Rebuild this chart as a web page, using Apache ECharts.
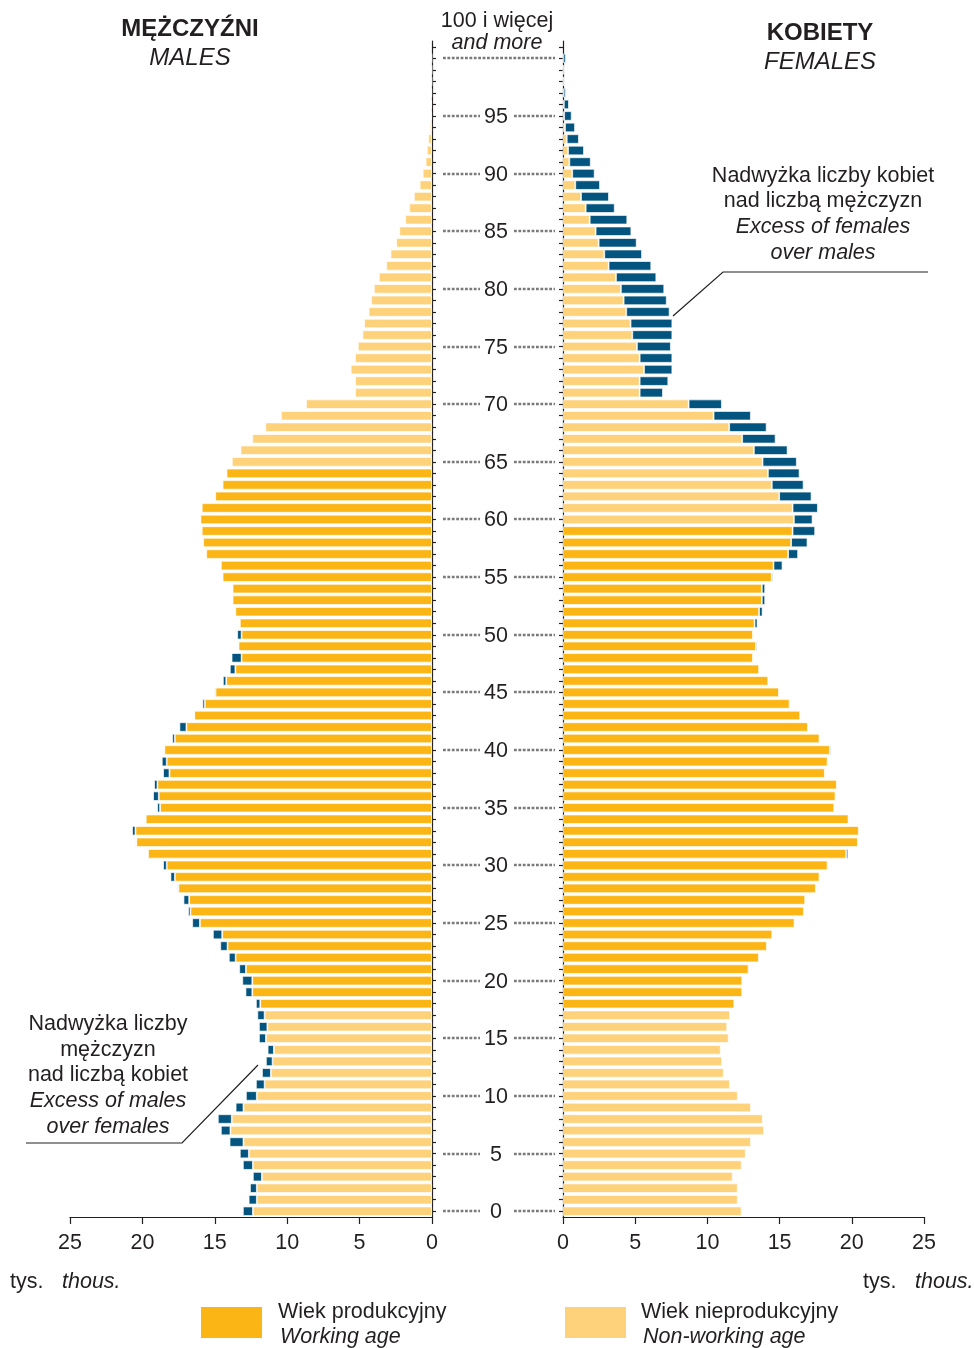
<!DOCTYPE html>
<html>
<head>
<meta charset="utf-8">
<title>Piramida wieku</title>
<script src="https://cdn.jsdelivr.net/npm/echarts@6/dist/echarts.min.js"></script>
<style>
  html, body { margin: 0; padding: 0; background: #fff; }
  #main { width: 974px; height: 1348px; }
</style>
</head>
<body>
<div id="main"></div>
<script type="text/javascript">
// wiek 0..100 (100 = 100 i więcej), tys. osób
var ages = [];
for (var i = 0; i <= 100; i++) ages.push(String(i));

var males = [
  13.06, 12.66, 12.57, 12.37, 13.06, 13.27, 13.98, 14.58, 14.79, 13.56,
  12.85, 12.16, 11.74, 11.47, 11.35, 11.95, 11.95, 12.06, 12.16, 12.88,
  13.10, 13.31, 14.03, 14.62, 15.13, 16.56, 16.84, 17.16, 17.58, 18.06,
  18.57, 19.61, 20.48, 20.71, 19.79, 18.98, 19.26, 19.19, 18.57, 18.66,
  18.48, 17.94, 17.44, 16.45, 15.85, 15.02, 14.44, 13.96, 13.84, 13.36,
  13.45, 13.27, 13.58, 13.77, 13.77, 14.46, 14.58, 15.59, 15.80, 15.90,
  15.99, 15.90, 14.97, 14.46, 14.19, 13.82, 13.22, 12.41, 11.51, 10.43,
  8.70, 5.31, 5.31, 5.61, 5.31, 5.12, 4.80, 4.68, 4.38, 4.20,
  4.01, 3.67, 3.16, 2.86, 2.47, 2.26, 1.85, 1.57, 1.25, 0.85,
  0.64, 0.44, 0.35, 0.26, 0.14, 0.08, 0.06, 0.05, 0.03, 0.02,
  0.03
];

var females = [
  12.37, 12.10, 12.10, 11.75, 12.37, 12.65, 13.02, 13.92, 13.83, 13.02,
  12.10, 11.56, 11.13, 11.01, 10.92, 11.47, 11.37, 11.56, 11.86, 12.41,
  12.41, 12.85, 13.56, 14.12, 14.49, 16.03, 16.68, 16.77, 17.51, 17.76,
  18.32, 19.75, 20.42, 20.48, 19.77, 18.78, 18.87, 18.96, 18.13, 18.32,
  18.57, 17.76, 16.96, 16.42, 15.69, 14.95, 14.21, 13.58, 13.15, 13.45,
  13.15, 13.47, 13.82, 14.00, 14.00, 14.55, 15.20, 16.28, 16.93, 17.46,
  17.28, 17.65, 17.21, 16.66, 16.38, 16.19, 15.55, 14.72, 14.10, 13.01,
  11.00, 6.92, 7.29, 7.57, 7.57, 7.47, 7.57, 7.57, 7.38, 7.18,
  7.01, 6.46, 6.11, 5.47, 5.10, 4.73, 4.45, 3.58, 3.18, 2.56,
  2.19, 1.92, 1.45, 1.10, 0.83, 0.60, 0.41, 0.20, 0.10, 0.10,
  0.20
];

var ageTicks = [0, 5, 10, 15, 20, 25, 30, 35, 40, 45, 50, 55, 60, 65, 70, 75, 80, 85, 90, 95, 100];

// wiek produkcyjny: mężczyźni 18-64, kobiety 18-59
var workMale = [18, 64];
var workFemale = [18, 59];

var ink = '#231f20';
var cWork = '#fbb616';
var cNonWork = '#fdd27b';
var cExcess = '#03557f';
var font = '"Liberation Sans", Arial, sans-serif';
var fs = 21.5;

// kategorie osi: 0..100 i jeden pusty rząd nad 100
var cats = ages.concat(['']);

function buildBase(own, other, range) {
  return own.map(function (v, i) {
    var w = i >= range[0] && i <= range[1];
    return { value: Math.min(v, other[i]), itemStyle: { color: w ? cWork : cNonWork } };
  });
}
function buildExcess(own, other) {
  return own.map(function (v, i) {
    var d = v - other[i];
    return d > 0 ? +d.toFixed(2) : '-';
  });
}

var myChart = echarts.init(document.getElementById('main'));

var valueAxis = {
  type: 'value', min: 0, max: 25, interval: 5,
  axisLine: { show: true, lineStyle: { color: ink, width: 1.2 } },
  axisTick: { show: true, length: 7, lineStyle: { color: ink, width: 1.2 } },
  axisLabel: { fontSize: fs, color: ink, margin: 15, fontFamily: font },
  splitLine: { show: false }
};
var catAxis = {
  type: 'category', data: cats,
  axisLine: { show: true, onZero: false, lineStyle: { color: ink, width: 1.2 } },
  axisTick: { show: true, alignWithLabel: true, interval: 0, length: 4, lineStyle: { color: ink, width: 1.2 } },
  axisLabel: { show: false },
  splitLine: { show: false }
};

function renderAgeLabel(params, api) {
  var idx = api.value(1);
  var y = Math.round(api.coord([0, idx])[1]);
  var x0 = params.coordSys.x, w = params.coordSys.width;
  var dash = { stroke: '#7a7a7a', lineWidth: 2.6, lineDash: [2.8, 1.6] };
  var kids = [];
  if (idx === 100) {
    kids.push({ type: 'line', shape: { x1: x0, y1: y, x2: x0 + w, y2: y }, style: dash });
    kids.push({ type: 'text', style: { text: '100 i więcej', x: x0 + 54, y: y - 37, align: 'center', verticalAlign: 'middle', font: fs + 'px ' + font, fill: ink } });
    kids.push({ type: 'text', style: { text: 'and more', x: x0 + 54, y: y - 15, align: 'center', verticalAlign: 'middle', font: 'italic ' + fs + 'px ' + font, fill: ink } });
  } else {
    kids.push({ type: 'line', shape: { x1: x0, y1: y, x2: x0 + 37, y2: y }, style: dash });
    kids.push({ type: 'line', shape: { x1: x0 + 71, y1: y, x2: x0 + w, y2: y }, style: dash });
    kids.push({ type: 'text', style: { text: String(idx), x: x0 + 53, y: y + 1, align: 'center', verticalAlign: 'middle', font: fs + 'px ' + font, fill: ink } });
  }
  return { type: 'group', children: kids };
}

function txt(t, x, y, opt) {
  opt = opt || {};
  return {
    type: 'text', x: x, y: y, silent: true,
    style: {
      text: t, fill: ink, align: opt.align || 'center', verticalAlign: 'middle',
      font: (opt.italic ? 'italic ' : '') + (opt.bold ? 'bold ' : '') + (opt.size || fs) + 'px ' + font
    }
  };
}
function poly(points) {
  return { type: 'polyline', silent: true, shape: { points: points }, style: { stroke: ink, lineWidth: 1.2, fill: null } };
}

var barStyle = { borderColor: 'rgba(255,255,255,0.85)', borderWidth: 0.8 };

var option = {
  animation: false,
  grid: [
    { left: 70, top: 41, width: 362, height: 1176 },
    { left: 443, top: 41, width: 112, height: 1176 },
    { left: 563, top: 41, width: 361, height: 1176 }
  ],
  xAxis: [
    Object.assign({}, valueAxis, { gridIndex: 0, inverse: true }),
    { gridIndex: 1, type: 'value', min: 0, max: 1, show: false },
    Object.assign({}, valueAxis, { gridIndex: 2 })
  ],
  yAxis: [
    Object.assign({}, catAxis, { gridIndex: 0, position: 'right' }),
    { gridIndex: 1, type: 'category', data: cats, show: false },
    Object.assign({}, catAxis, { gridIndex: 2, position: 'left' })
  ],
  series: [
    { name: 'M', type: 'bar', xAxisIndex: 0, yAxisIndex: 0, stack: 'm', barCategoryGap: '18%', silent: true,
      itemStyle: barStyle, data: buildBase(males, females, workMale) },
    { name: 'M+', type: 'bar', xAxisIndex: 0, yAxisIndex: 0, stack: 'm', barCategoryGap: '18%', silent: true,
      itemStyle: Object.assign({ color: cExcess }, barStyle), data: buildExcess(males, females) },
    { name: 'K', type: 'bar', xAxisIndex: 2, yAxisIndex: 2, stack: 'k', barCategoryGap: '18%', silent: true,
      itemStyle: barStyle, data: buildBase(females, males, workFemale) },
    { name: 'K+', type: 'bar', xAxisIndex: 2, yAxisIndex: 2, stack: 'k', barCategoryGap: '18%', silent: true,
      itemStyle: Object.assign({ color: cExcess }, barStyle), data: buildExcess(females, males) },
    { type: 'custom', xAxisIndex: 1, yAxisIndex: 1, silent: true, renderItem: renderAgeLabel,
      data: ageTicks.map(function (a) { return [0.5, a]; }) }
  ],
  graphic: [
    txt('MĘŻCZYŹNI', 190, 29, { bold: true, size: 24 }),
    txt('MALES', 190, 58, { italic: true, size: 24 }),
    txt('KOBIETY', 820, 33, { bold: true, size: 24 }),
    txt('FEMALES', 820, 62, { italic: true, size: 24 }),

    txt('Nadwyżka liczby kobiet', 823, 176),
    txt('nad liczbą mężczyzn', 823, 201),
    txt('Excess of females', 823, 227, { italic: true }),
    txt('over males', 823, 253, { italic: true }),
    poly([[673, 316], [723, 272], [928, 272]]),

    txt('Nadwyżka liczby', 108, 1024),
    txt('mężczyzn', 108, 1050),
    txt('nad liczbą kobiet', 108, 1075),
    txt('Excess of males', 108, 1101, { italic: true }),
    txt('over females', 108, 1127, { italic: true }),
    poly([[26, 1143], [182, 1143], [258, 1065]]),

    txt('tys.', 10, 1282, { align: 'left' }),
    txt('thous.', 62, 1282, { align: 'left', italic: true }),
    txt('tys.', 863, 1282, { align: 'left' }),
    txt('thous.', 915, 1282, { align: 'left', italic: true }),

    { type: 'rect', silent: true, shape: { x: 201, y: 1307, width: 61, height: 31 }, style: { fill: cWork } },
    txt('Wiek produkcyjny', 278, 1312, { align: 'left' }),
    txt('Working age', 280, 1337, { align: 'left', italic: true }),
    { type: 'rect', silent: true, shape: { x: 565, y: 1307, width: 61, height: 31 }, style: { fill: cNonWork } },
    txt('Wiek nieprodukcyjny', 641, 1312, { align: 'left' }),
    txt('Non-working age', 643, 1337, { align: 'left', italic: true })
  ]
};

myChart.setOption(option);
</script>
</body>
</html>
